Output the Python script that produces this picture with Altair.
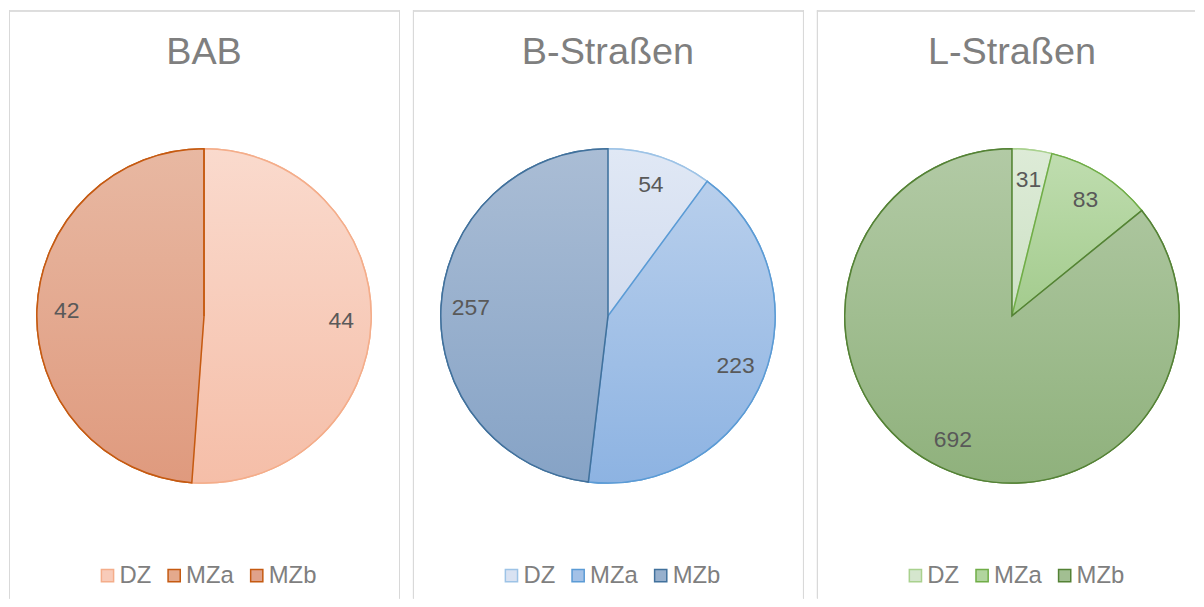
import altair as alt
import pandas as pd

categories = ["DZ", "MZa", "MZb"]
panel_titles = ["BAB", "B-Straßen", "L-Straßen"]
bab_values = [44, 42, 0]
bstr_values = [54, 223, 257]
lstr_values = [31, 83, 692]
panel_values = [bab_values, bstr_values, lstr_values]

fill_top = [
    ["#fadacd", "#e8b8a2", "#e5b39e"],
    ["#e0e8f5", "#b8cfec", "#aabdd5"],
    ["#ddebd7", "#bfddaf", "#b2caa5"],
]
fill_bottom = [
    ["#f5bea8", "#df9a7e", "#dc9479"],
    ["#d2dcef", "#8db3e2", "#86a3c6"],
    ["#cde1c5", "#a3cb8d", "#8fb17c"],
]
fill_mid = [
    ["#f8cbb9", "#e4a98d", "#e0a28a"],
    ["#d9e2f2", "#a3c1e7", "#97b0cd"],
    ["#d5e6ce", "#b1d59e", "#a2bf92"],
]
strokes = [
    ["#f4ad8a", "#c55a11", "#c55a11"],
    ["#9dc3e6", "#5b9bd5", "#41719c"],
    ["#a9d18e", "#70ad47", "#548235"],
]

FONT = "Liberation Sans"
WIDTHS = [393, 393, 380]
H = 591
CX, CY, R = 196, 307, 168
BORDER = "#d9d9d9"


def grad(top, bottom):
    return {
        "gradient": "linear",
        "x1": 0, "y1": 0, "x2": 0, "y2": 1,
        "stops": [{"offset": 0, "color": top}, {"offset": 1, "color": bottom}],
    }


def panel(i):
    W = WIDTHS[i]
    df = pd.DataFrame({"cat": categories, "value": panel_values[i], "idx": [0, 1, 2]})
    base = alt.Chart(df)
    legend = alt.Legend(
        title=None, orient="none", legendX=87, legendY=556, direction="horizontal",
        symbolType="square", symbolSize=150, symbolStrokeWidth=1.5,
        labelFont=FONT, labelFontSize=24, labelColor="#7f7f7f",
        columnPadding=11, labelOffset=0,
    )
    theta = alt.Theta("value:Q", stack=True)
    order = alt.Order("idx:Q")
    legend_layer = base.mark_arc(strokeWidth=1.5).encode(
        theta=theta, order=order,
        fill=alt.Fill("cat:N", scale=alt.Scale(domain=categories, range=fill_mid[i]), legend=legend),
        stroke=alt.Stroke("cat:N", scale=alt.Scale(domain=categories, range=strokes[i]), legend=legend),
        x=alt.value(CX), y=alt.value(CY), radius=alt.value(R),
    )
    fill_cond = {
        "condition": [
            {"test": f"datum.cat === '{categories[k]}'", "value": grad(fill_top[i][k], fill_bottom[i][k])}
            for k in range(2)
        ],
        "value": grad(fill_top[i][2], fill_bottom[i][2]),
    }
    stroke_cond = {
        "condition": [
            {"test": f"datum.cat === '{categories[k]}'", "value": strokes[i][k]}
            for k in range(2)
        ],
        "value": strokes[i][2],
    }
    grad_layer = base.mark_arc(strokeWidth=1.5).encode(
        theta=theta, order=order, fill=fill_cond, stroke=stroke_cond,
        x=alt.value(CX), y=alt.value(CY), radius=alt.value(R),
    )
    text_layer = base.transform_filter("datum.value > 0").mark_text(
        font=FONT, fontSize=23, color="#595959", baseline="middle", align="center"
    ).encode(
        theta=theta, order=order, text="value:Q",
        x=alt.value(CX), y=alt.value(CY), radius=alt.value(138),
    )
    title_layer = alt.Chart(pd.DataFrame({"t": [panel_titles[i]]})).mark_text(
        font=FONT, fontSize=38, color="#7f7f7f", baseline="alphabetic", align="center"
    ).encode(text="t:N", x=alt.value(CX), y=alt.value(54))

    # panel frame (left, top, and right where it is inside the window)
    frame = [
        base.mark_rule(color=BORDER, strokeWidth=1).encode(
            x=alt.value(0.5), y=alt.value(0), y2=alt.value(H)),
        base.mark_rule(color=BORDER, strokeWidth=1).encode(
            x=alt.value(0), x2=alt.value(W), y=alt.value(0.5)),
    ]
    if i < 2:
        frame.append(base.mark_rule(color=BORDER, strokeWidth=1).encode(
            x=alt.value(W - 0.5), y=alt.value(0), y2=alt.value(H)))
    return alt.layer(*frame, legend_layer, grad_layer, text_layer, title_layer).properties(width=W, height=H)


chart = alt.hconcat(panel(0), panel(1), panel(2)).resolve_scale(
    fill="independent", stroke="independent"
).resolve_legend(
    fill="independent", stroke="independent"
).configure_view(
    stroke=None
).configure_concat(spacing=11).properties(padding=0, background="white")

chart.save("out.html", embed_options={"renderer": "svg", "actions": False})
